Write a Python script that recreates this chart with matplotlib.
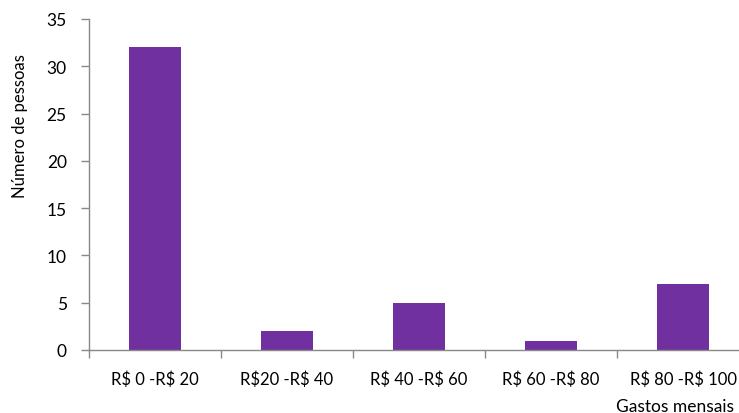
import matplotlib
matplotlib.use("Agg")
import matplotlib.pyplot as plt
import numpy as np

categories = ["R$ 0 -R$ 20", "R$20 -R$ 40", "R$ 40 -R$ 60", "R$ 60 -R$ 80", "R$ 80 -R$ 100"]
values = [32, 2, 5, 1, 7]
y_ticks = [0, 5, 10, 15, 20, 25, 30, 35]

plt.rcParams['font.family'] = ['Lato', 'DejaVu Sans']
plt.rcParams['text.parse_math'] = False

W, H = 739, 414
fig = plt.figure(figsize=(W / 100, H / 100), dpi=100)
ax = fig.add_axes([89 / W, (H - 351) / H, 660 / W, 331 / H])

x = np.arange(len(categories))
ax.bar(x, values, width=0.40, color="#7030A0", zorder=2)

ax.set_xlim(-0.5, len(categories) - 0.5)
ax.set_ylim(0, 35)
ax.set_yticks(y_ticks)
ax.tick_params(axis='y', labelsize=12.5, length=6, color="#888888", width=1, pad=10)

# category boundaries as major ticks, labels at category centres
ax.set_xticks(np.arange(-0.5, len(categories) + 0.5, 1.0))
ax.set_xticklabels([])
ax.set_xticks(x, minor=True)
ax.set_xticklabels(categories, minor=True, fontsize=12)
ax.tick_params(axis='x', which='minor', length=0, pad=15)
ax.tick_params(axis='x', which='major', length=6, color="#888888", width=1)

for s in ['top', 'right']:
    ax.spines[s].set_visible(False)
for s in ['left', 'bottom']:
    ax.spines[s].set_color("#888888")
    ax.spines[s].set_linewidth(1)

fig.text(734 / W, 1 - 407 / H, "Gastos mensais", ha='right', va='center', fontsize=12.5)
fig.text(20 / W, 1 - 126 / H, "Número de pessoas", ha='center', va='center',
         rotation=90, fontsize=12)

fig.savefig("out.png", dpi=100)
